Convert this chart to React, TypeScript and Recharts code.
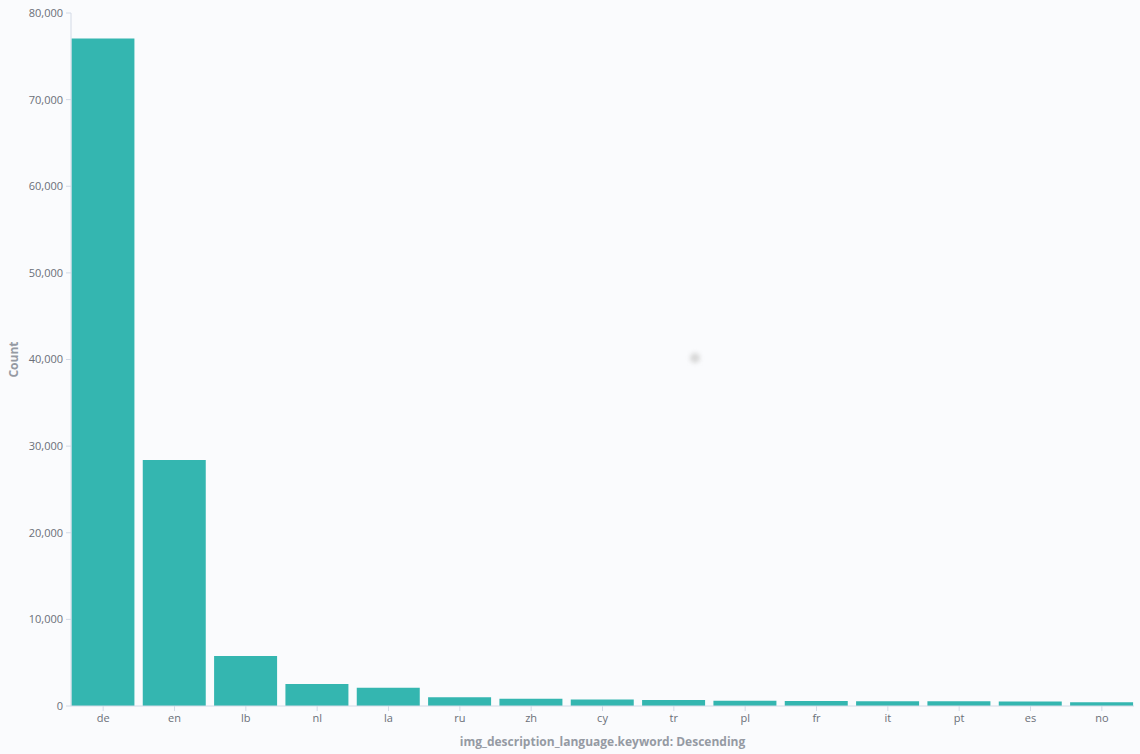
import React from "react";
import { BarChart, Bar, XAxis, YAxis } from "recharts";

const languages = ["de", "en", "lb", "nl", "la", "ru", "zh", "cy", "tr", "pl", "fr", "it", "pt", "es", "no"];
const counts = [77050, 28400, 5780, 2540, 2110, 1000, 850, 740, 690, 600, 580, 560, 540, 510, 440];
const yTicks = [0, 10000, 20000, 30000, 40000, 50000, 60000, 70000, 80000];

const data = languages.map((lang, i) => ({ lang, count: counts[i] }));

const FONT = "'Open Sans', sans-serif";
const TICK_COLOR = "#6A6F78";
const TITLE_COLOR = "#959AA3";
const AXIS_COLOR = "#D3DAE6";

const fmt = (v: number) => v.toLocaleString("en-US");

export default function App() {
  return (
    <div style={{ position: "absolute", left: 0, top: 0, width: 1140, height: 754, background: "#FAFBFD", fontFamily: FONT }}>
      <BarChart
        width={1140}
        height={754}
        data={data}
        margin={{ top: 13, right: 6, bottom: 0, left: 0 }}
        barCategoryGap="5.5%"
      >
        <XAxis
          dataKey="lang"
          height={48}
          padding={{ left: -3.5, right: -3.5 }}
          tickLine={{ stroke: AXIS_COLOR }}
          axisLine={{ stroke: AXIS_COLOR }}
          tickSize={5}
          tickMargin={3}
          tick={{ fill: TICK_COLOR, fontSize: 11, fontFamily: FONT }}
          interval={0}
          label={{
            value: "img_description_language.keyword: Descending",
            position: "insideBottom",
            offset: 8,
            fill: TITLE_COLOR,
            fontSize: 12,
            fontWeight: 700,
            fontFamily: FONT,
          }}
        />
        <YAxis
          width={71}
          domain={[0, 80000]}
          ticks={yTicks}
          tickFormatter={fmt}
          tickLine={{ stroke: AXIS_COLOR }}
          axisLine={{ stroke: AXIS_COLOR }}
          tickSize={5}
          tickMargin={3}
          tick={{ fill: TICK_COLOR, fontSize: 11, fontFamily: FONT }}
          label={{
            value: "Count",
            angle: -90,
            position: "insideLeft",
            offset: 14,
            fill: TITLE_COLOR,
            fontSize: 12,
            fontWeight: 700,
            fontFamily: FONT,
            style: { textAnchor: "middle" },
          }}
        />
        <Bar dataKey="count" fill="#34B6B0" isAnimationActive={false} />
      </BarChart>
      <div
        style={{
          position: "absolute",
          left: 690,
          top: 353,
          width: 10,
          height: 10,
          borderRadius: 5,
          background: "#D8D8D8",
          filter: "blur(2px)",
        }}
      />
    </div>
  );
}
